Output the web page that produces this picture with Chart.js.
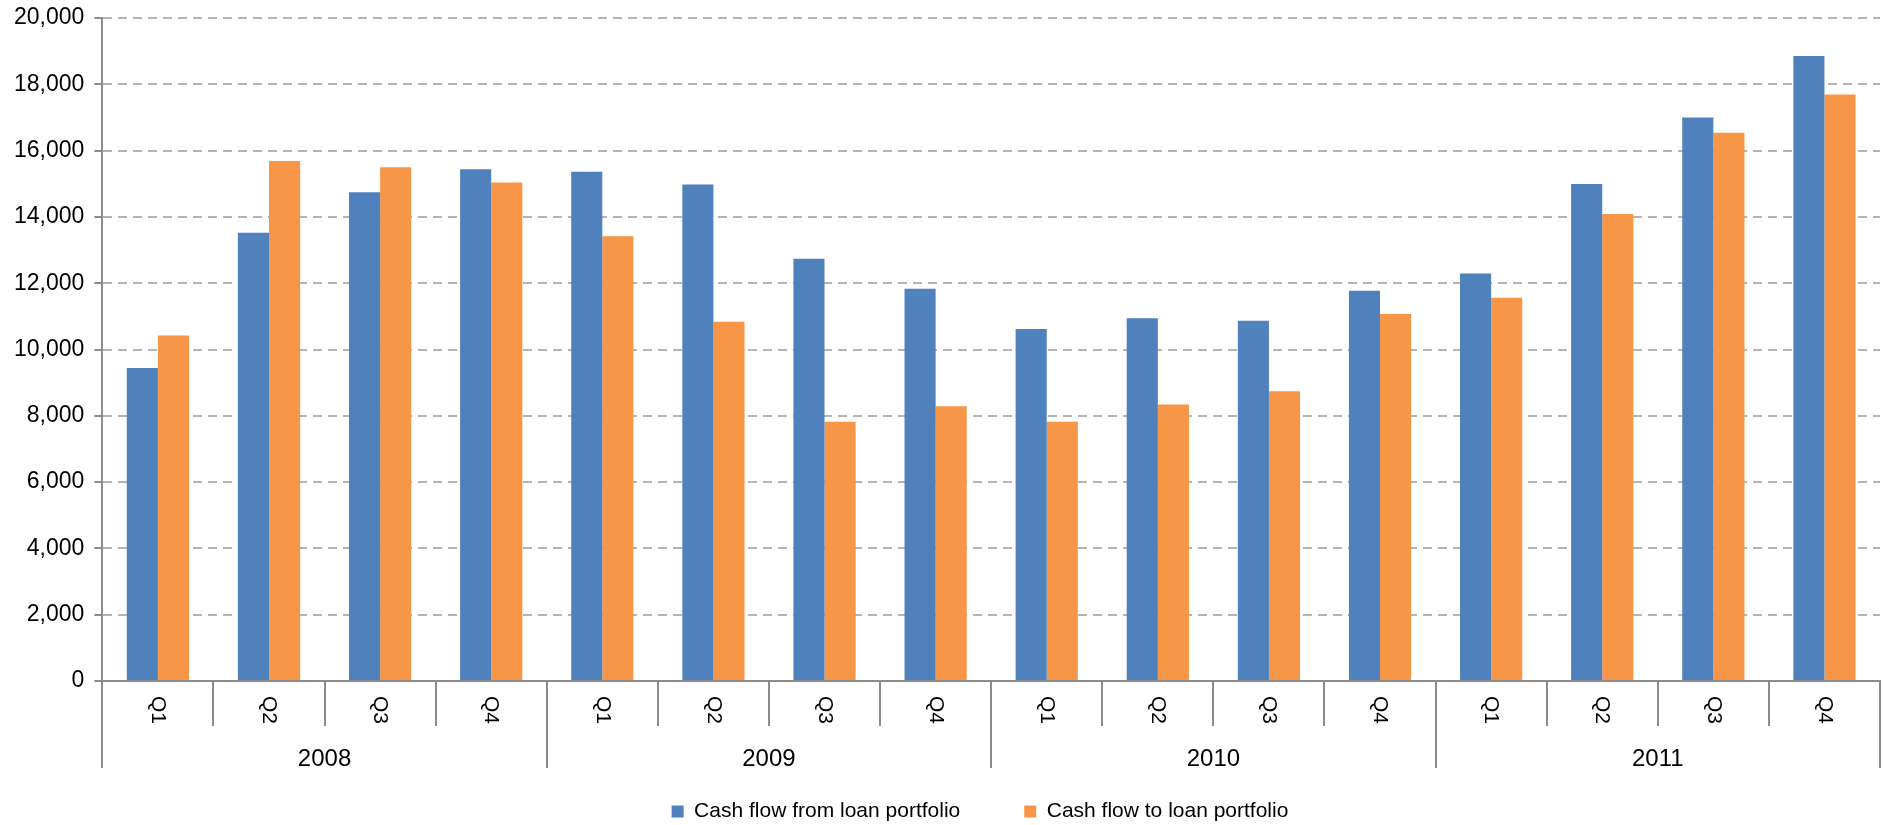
<!DOCTYPE html>
<html>
<head>
<meta charset="utf-8">
<title>Cash flow from / to loan portfolio</title>
<script src="https://cdn.jsdelivr.net/npm/chart.js@4.4.1/dist/chart.umd.min.js"></script>
<style>
  html, body { margin: 0; padding: 0; background: #fff; }
  #wrap { width: 1883px; height: 825px; position: relative; }
</style>
</head>
<body>
<div id="wrap"><canvas id="cashFlowChart"></canvas></div>
<script>
// quarters grouped by year
const years = ['2008', '2009', '2010', '2011'];
const quarters = ['Q1', 'Q2', 'Q3', 'Q4'];
const labels = [];
years.forEach(y => quarters.forEach(q => labels.push(q)));

const cashFlowFrom = [9440, 13520, 14740, 15440, 15360, 14980, 12740, 11830, 10620, 10940, 10870, 11770, 12290, 14990, 17000, 18850];
const cashFlowTo   = [10420, 15690, 15500, 15040, 13420, 10840, 7820, 8290, 7820, 8340, 8740, 11070, 11560, 14090, 16540, 17690];

const axisGrey = '#8c8c8c';
const fontFamily = '"Liberation Sans", Arial, Helvetica, sans-serif';

// draws the two-level category axis (quarters rotated, years below)
const groupedAxis = {
    id: 'groupedAxis',
    afterLayout(chart) {
        // legend centred under the plot, a little lower than default
        const lg = chart.legend;
        lg.left = 80;
        lg.top += 7;
        lg.bottom += 7;
    },
    afterDraw(chart) {
        const ctx = chart.ctx;
        const x = chart.scales.x;
        const bottom = chart.chartArea.bottom;
        const step = x.getPixelForTick(1) - x.getPixelForTick(0);

        ctx.save();
        ctx.strokeStyle = axisGrey;
        ctx.lineWidth = 2;
        for (let i = 0; i <= labels.length; i++) {
            const px = Math.round(x.getPixelForTick(0) - step / 2 + i * step);
            const len = (i % quarters.length === 0) ? 87 : 45;
            ctx.beginPath();
            ctx.moveTo(px, bottom);
            ctx.lineTo(px, bottom + len);
            ctx.stroke();
        }

        ctx.fillStyle = '#000';
        ctx.font = '21px ' + fontFamily;
        ctx.textAlign = 'center';
        ctx.textBaseline = 'middle';
        labels.forEach((q, i) => {
            ctx.save();
            ctx.translate(x.getPixelForTick(i), bottom + 29);
            ctx.rotate(Math.PI / 2);
            ctx.fillText(q, 0, 0);
            ctx.restore();
        });

        ctx.font = '24px ' + fontFamily;
        years.forEach((y, j) => {
            const first = j * quarters.length;
            const last = first + quarters.length - 1;
            const cx = (x.getPixelForTick(first) + x.getPixelForTick(last)) / 2;
            ctx.fillText(y, cx, bottom + 78);
        });
        ctx.restore();
    }
};

const ctx = document.getElementById('cashFlowChart');

new Chart(ctx, {
    type: 'bar',
    data: {
        labels: labels,
        datasets: [{
            label: 'Cash flow from loan portfolio',
            data: cashFlowFrom,
            backgroundColor: '#4f81bd',
        }, {
            label: 'Cash flow to loan portfolio',
            data: cashFlowTo,
            backgroundColor: '#f79646',
        }]
    },
    options: {
        responsive: true,
        maintainAspectRatio: false,
        animation: false,
        layout: {
            padding: { left: 4, right: 3, top: 0, bottom: 0 }
        },
        datasets: {
            bar: {
                categoryPercentage: 0.56,
                barPercentage: 1.0
            }
        },
        plugins: {
            tooltip: { enabled: false },
            legend: {
                position: 'bottom',
                labels: {
                    boxWidth: 12,
                    boxHeight: 12,
                    padding: 64,
                    color: '#000',
                    font: { size: 21, family: fontFamily }
                }
            }
        },
        scales: {
            x: {
                afterFit(scale) { scale.height = 49; },
                grid: { display: false },
                border: { display: true, color: axisGrey, width: 2 },
                ticks: { display: false }
            },
            y: {
                min: 0,
                max: 20000,
                afterFit(scale) { scale.paddingTop = 18; },
                border: { display: true, color: axisGrey, width: 2, dash: [9, 6] },
                grid: {
                    color: c => (c.tick && c.tick.value === 0) ? 'rgba(0,0,0,0)' : '#b4b4b4',
                    lineWidth: 2,
                    tickLength: 8,
                    tickColor: axisGrey,
                    tickBorderDash: []
                },
                ticks: {
                    stepSize: 2000,
                    padding: 10,
                    color: '#000',
                    font: { size: 23, family: fontFamily },
                    callback: v => v.toLocaleString('en-US')
                }
            }
        }
    },
    plugins: [groupedAxis]
});
</script>
</body>
</html>
